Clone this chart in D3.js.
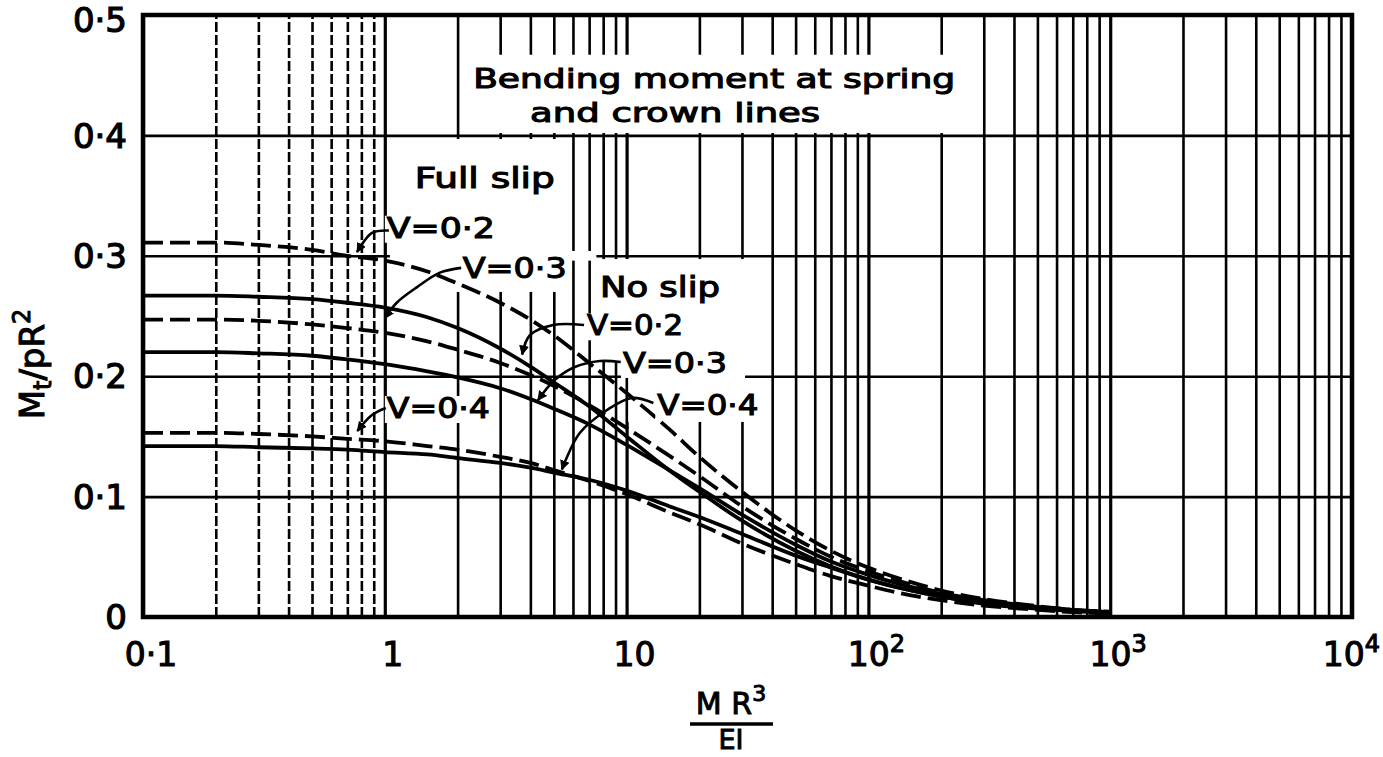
<!DOCTYPE html>
<html>
<head>
<meta charset="utf-8">
<script src="https://cdn.jsdelivr.net/npm/d3@7"></script>
<style>
    body { margin: 0; background: #fff; }
    text { font-family: "DejaVu Sans", sans-serif; fill: #000; }
</style>
</head>
<body>
<svg id="chart" width="1383" height="757"></svg>
<script>
// MR^3/EI sample points
const xValues = [0.1, 0.2, 0.3, 0.5, 0.7, 1, 1.5, 2, 3, 4, 5, 7, 10, 15, 20, 30, 50, 70, 100, 150, 200, 300, 500, 700, 1000];

// Full slip (dashed)
const fullSlip02 = [0.311, 0.311, 0.309, 0.305, 0.300, 0.296, 0.287, 0.277, 0.261, 0.247, 0.234, 0.211, 0.186, 0.156, 0.133, 0.104, 0.072, 0.055, 0.041, 0.029, 0.022, 0.015, 0.009, 0.006, 0.004];
const fullSlip03 = [0.247, 0.247, 0.246, 0.243, 0.240, 0.236, 0.229, 0.222, 0.211, 0.201, 0.192, 0.176, 0.157, 0.134, 0.117, 0.092, 0.065, 0.050, 0.038, 0.027, 0.020, 0.014, 0.0085, 0.006, 0.0045];
const fullSlip04 = [0.153, 0.153, 0.152, 0.150, 0.148, 0.146, 0.142, 0.139, 0.133, 0.128, 0.122, 0.113, 0.102, 0.087, 0.077, 0.061, 0.044, 0.034, 0.026, 0.018, 0.014, 0.0095, 0.006, 0.004, 0.003];

// No slip (solid)
const noSlip02 = [0.267, 0.267, 0.266, 0.264, 0.261, 0.257, 0.249, 0.240, 0.223, 0.208, 0.195, 0.175, 0.150, 0.122, 0.104, 0.080, 0.055, 0.042, 0.031, 0.022, 0.017, 0.011, 0.007, 0.005, 0.0035];
const noSlip03 = [0.220, 0.220, 0.219, 0.217, 0.214, 0.210, 0.204, 0.199, 0.190, 0.181, 0.173, 0.160, 0.143, 0.122, 0.107, 0.085, 0.060, 0.046, 0.035, 0.025, 0.019, 0.013, 0.008, 0.0057, 0.004];
const noSlip04 = [0.142, 0.142, 0.141, 0.140, 0.139, 0.137, 0.135, 0.132, 0.128, 0.124, 0.120, 0.114, 0.105, 0.092, 0.083, 0.069, 0.051, 0.041, 0.031, 0.022, 0.017, 0.012, 0.0075, 0.0055, 0.004];

// Axes
const yTicks = [0, 0.1, 0.2, 0.3, 0.4, 0.5];
const yTickLabels = ["0", "0·1", "0·2", "0·3", "0·4", "0·5"];
const xTicks = [0.1, 1, 10, 100, 1000, 10000];
const xTickBase = ["0·1", "1", "10", "10", "10", "10"];
const xTickExp = ["", "", "", "2", "3", "4"];

const svg = d3.select("#chart");
const margin = { top: 15, right: 31, bottom: 140, left: 143 };
const width = 1383 - margin.left - margin.right;
const height = 757 - margin.top - margin.bottom;

const x = d3.scaleLog().domain([0.1, 1e4]).range([0, width]);
const y = d3.scaleLinear().domain([0, 0.5]).range([height, 0]);

const g = svg.append("g").attr("transform", `translate(${margin.left},${margin.top})`);

// arrow head
svg.append("defs")
    .append("marker")
    .attr("id", "arrow")
    .attr("viewBox", "0 0 10 10")
    .attr("refX", 9)
    .attr("refY", 5)
    .attr("markerWidth", 10)
    .attr("markerHeight", 10)
    .attr("markerUnits", "userSpaceOnUse")
    .attr("orient", "auto")
    .append("path")
    .attr("d", "M0,0 L10,5 L0,10 z")
    .attr("fill", "#000");

// log grid
const gridX = [];
for (let d = -1; d <= 3; d++) {
    for (let m = 1; m <= 9; m++) {
        gridX.push(m * Math.pow(10, d));
    }
}

const xGrid = d3.axisBottom(x).tickValues(gridX).tickFormat("").tickSize(-height);
g.append("g")
    .attr("class", "grid x")
    .attr("transform", `translate(0,${height})`)
    .call(xGrid)
    .call((s) => s.select(".domain").remove())
    .selectAll("line")
    .attr("stroke", "#000")
    .attr("stroke-width", (d) => (Math.abs(Math.log10(d) % 1) < 1e-9 ? 3.2 : 2.6))
    .attr("stroke-dasharray", (d) => (d < 1 && d > 0.1 ? "10,3" : null));

const yGrid = d3.axisLeft(y).tickValues(yTicks.slice(1, 5)).tickFormat("").tickSize(-width);
g.append("g")
    .attr("class", "grid y")
    .call(yGrid)
    .call((s) => s.select(".domain").remove())
    .selectAll("line")
    .attr("stroke", "#000")
    .attr("stroke-width", 2.6);

// areas where the printed grid is blanked behind the annotations
const blanks = [
    [2.08, 258, 0.402, 0.467],
    [1.05, 5.73, 0.295, 0.397],
    [1.87, 5.73, 0.270, 0.300],
    [5.73, 7.5, 0.296, 0.304],
    [7.5, 30.9, 0.2118, 0.2973],
    [10.15, 30.9, 0.162, 0.2118],
];
g.append("g")
    .selectAll("rect")
    .data(blanks)
    .join("rect")
    .attr("x", (d) => x(d[0]))
    .attr("width", (d) => x(d[1]) - x(d[0]))
    .attr("y", (d) => y(d[3]))
    .attr("height", (d) => y(d[2]) - y(d[3]))
    .attr("fill", "#fff");

// curves
const series = [
    { values: fullSlip02, dashed: true },
    { values: fullSlip03, dashed: true },
    { values: fullSlip04, dashed: true },
    { values: noSlip02, dashed: false },
    { values: noSlip03, dashed: false },
    { values: noSlip04, dashed: false },
];

const line = d3
    .line()
    .x((d) => x(d[0]))
    .y((d) => y(d[1]))
    .curve(d3.curveMonotoneX);

g.append("g")
    .selectAll("path")
    .data(series)
    .join("path")
    .attr("d", (s) => line(xValues.map((v, i) => [v, s.values[i]])))
    .attr("fill", "none")
    .attr("stroke", "#000")
    .attr("stroke-width", 3.8)
    .attr("stroke-dasharray", (s) => (s.dashed ? "20,7" : null));

// frame
g.append("rect")
    .attr("width", width)
    .attr("height", height)
    .attr("fill", "none")
    .attr("stroke", "#000")
    .attr("stroke-width", 4.5);

// y tick labels
g.append("g")
    .selectAll("text")
    .data(yTicks)
    .join("text")
    .attr("x", -16)
    .attr("y", (d) => y(d) + (d === 0.5 ? 5 : 0))
    .attr("dy", "0.36em")
    .attr("text-anchor", "end")
    .attr("font-size", 34)
    .attr("stroke", "#000")
    .attr("stroke-width", 1.2)
    .text((d, i) => yTickLabels[i]);

// x tick labels
const xl = g.append("g")
    .selectAll("text")
    .data(xTicks)
    .join("text")
    .attr("x", (d, i) => (i === xTicks.length - 1 ? width + margin.right - 3 : x(d) + 8))
    .attr("y", height + 49)
    .attr("text-anchor", (d, i) => (i === xTicks.length - 1 ? "end" : "middle"))
    .attr("font-size", 33)
    .attr("stroke", "#000")
    .attr("stroke-width", 1.1);
xl.append("tspan").text((d, i) => xTickBase[i]);
xl.append("tspan")
    .attr("font-size", 24)
    .attr("dy", -14)
    .text((d, i) => xTickExp[i]);

// y axis title
const yt = svg.append("text")
    .attr("transform", "translate(44,364) rotate(-90)")
    .attr("text-anchor", "middle")
    .attr("font-size", 34)
    .attr("stroke", "#000")
    .attr("stroke-width", 1);
yt.append("tspan").text("M");
yt.append("tspan").attr("font-size", 24).attr("dy", 7).text("t");
yt.append("tspan").attr("dy", -7).text("/pR");
yt.append("tspan").attr("font-size", 24).attr("dy", -14).text("2");

// x axis title (fraction)
const cx = 731;
const xt = svg.append("text")
    .attr("x", cx)
    .attr("y", 714)
    .attr("text-anchor", "middle")
    .attr("font-size", 30)
    .attr("stroke", "#000")
    .attr("stroke-width", 1);
xt.append("tspan").text("M R");
xt.append("tspan").attr("font-size", 22).attr("dy", -13).text("3");
svg.append("line")
    .attr("x1", cx - 41)
    .attr("x2", cx + 42)
    .attr("y1", 724)
    .attr("y2", 724)
    .attr("stroke", "#000")
    .attr("stroke-width", 3.5);
svg.append("text")
    .attr("x", cx)
    .attr("y", 749)
    .attr("text-anchor", "middle")
    .attr("font-size", 27)
    .attr("stroke", "#000")
    .attr("stroke-width", 1)
    .text("EI");

// annotations: text anchored at data coordinates, width from the print
const notes = [
    { text: "Bending moment at spring", at: [2.32, 0.4394], len: 482, size: 27 },
    { text: "and crown lines", at: [3.99, 0.411], len: 290, size: 27 },
    { text: "Full slip", at: [1.33, 0.3563], len: 140, size: 28 },
    { text: "No slip", at: [7.76, 0.266], len: 120, size: 28 },
    { text: "V=0·2", at: [1.02, 0.315], len: 108, size: 28 },
    { text: "V=0·3", at: [2.10, 0.2816], len: 104, size: 28 },
    { text: "V=0·4", at: [1.02, 0.1653], len: 103, size: 28 },
    { text: "V=0·2", at: [6.86, 0.234], len: 96, size: 28 },
    { text: "V=0·3", at: [9.66, 0.2027], len: 104, size: 28 },
    { text: "V=0·4", at: [13.4, 0.1678], len: 101, size: 28 },
];

const noteG = g.append("g");
notes.forEach((n) => {
    const t = noteG.append("text")
        .attr("x", x(n.at[0]))
        .attr("y", y(n.at[1]))
        .attr("font-size", n.size)
        .attr("textLength", n.len)
        .attr("lengthAdjust", "spacingAndGlyphs")
        .attr("stroke", "#000")
        .attr("stroke-width", 1.1)
        .text(n.text);
    if (n.text.startsWith("V")) {
        const b = t.node().getBBox();
        noteG.insert("rect", "text")
            .attr("x", b.x - 2)
            .attr("y", b.y + 4)
            .attr("width", b.width + 4)
            .attr("height", b.height - 6)
            .attr("fill", "#fff");
    }
});

// leader lines
const leaders = [
    [[1.04, 0.321], [0.885, 0.319], [0.768, 0.303]],
    [[2.07, 0.290], [1.69, 0.286], [1.36, 0.274], [1.12, 0.261], [1.0, 0.248]],
    [[1.01, 0.1736], [0.885, 0.1678], [0.77, 0.1545]],
    [[6.67, 0.2425], [4.97, 0.2425], [3.98, 0.234], [3.7, 0.218]],
    [[9.46, 0.2118], [7.76, 0.2126], [6.11, 0.2076], [5.04, 0.1968], [4.30, 0.180]],
    [[12.9, 0.1777], [10.5, 0.1819], [8.3, 0.1719], [6.4, 0.1528], [5.6, 0.1304], [5.4, 0.1225]],
];
const leaderLine = d3
    .line()
    .x((d) => x(d[0]))
    .y((d) => y(d[1]))
    .curve(d3.curveCatmullRom);
g.append("g")
    .selectAll("path")
    .data(leaders)
    .join("path")
    .attr("d", leaderLine)
    .attr("fill", "none")
    .attr("stroke", "#000")
    .attr("stroke-width", 2.6)
    .attr("marker-end", "url(#arrow)");
</script>
</body>
</html>
